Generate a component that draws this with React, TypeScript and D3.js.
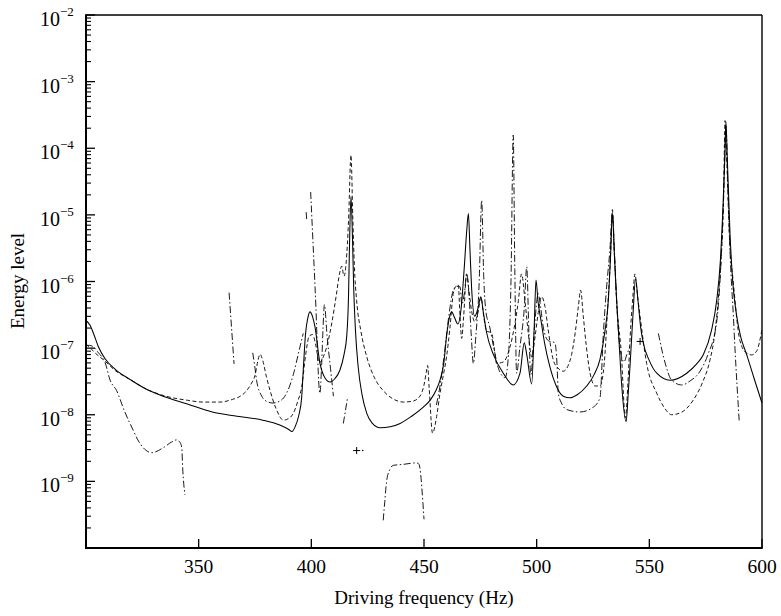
import React from 'react';
import * as d3 from 'd3';

type P = [number, number];

// ---- axis data ----
const xDomain: [number, number] = [300, 600];
const yDomain: [number, number] = [1e-10, 1e-2];
const xTickValues = [350, 400, 450, 500, 550, 600];
const yLabelExponents = [-9, -8, -7, -6, -5, -4, -3, -2];
const xTitle = 'Driving frequency (Hz)';
const yTitle = 'Energy level';

// ---- series (frequency Hz, energy) ----
const solidSeries: P[] = [
  [300, 2.6e-7], [301.8, 2.2e-7], [303.5, 1.6e-7], [305.5, 1.05e-7], [308.4, 7e-8], [313, 4.8e-8],
  [319.5, 3.4e-8], [326, 2.5e-8], [334.2, 1.9e-8], [345, 1.45e-8], [356, 1.1e-8], [367, 9.5e-9],
  [378.5, 8.3e-9], [386, 7e-9], [390, 6e-9], [391.4, 5.6e-9], [392.8, 6.6e-9], [394.5, 1e-8],
  [395.7, 1.8e-8], [396.6, 6e-8], [397.4, 1.6e-7], [398.4, 2.8e-7], [399.4, 3.5e-7], [400.5, 3e-7],
  [401.6, 2.1e-7], [403.8, 6e-8], [406, 3.6e-8], [408.3, 3.1e-8], [410.5, 3.5e-8], [412.7, 4.7e-8],
  [414.5, 8e-8], [415.7, 1.5e-7], [416.5, 6e-7], [416.9, 3e-6], [417.6, 1.9e-5], [418.3, 4e-6],
  [418.8, 8e-7], [419.6, 1.8e-7], [420.8, 5.2e-8], [422.5, 2e-8], [424.6, 1.05e-8], [427, 7.5e-9],
  [430.5, 6.4e-9], [435, 6.6e-9], [439.4, 7.4e-9], [444.5, 9.5e-9], [449.7, 1.3e-8], [453, 1.7e-8],
  [455.5, 2.4e-8], [457.1, 3.3e-8], [458.8, 6e-8], [460, 1.5e-7], [461.2, 2.8e-7], [462.3, 3.5e-7],
  [463.5, 2.9e-7], [465, 2.3e-7], [466.5, 4e-7], [467.8, 1.5e-6], [469, 6e-6], [469.7, 1.05e-5],
  [470.4, 3e-6], [471.1, 8.3e-7], [472.5, 3e-7], [474, 4e-7], [475.2, 5.9e-7], [476.3, 3.5e-7],
  [477.8, 1.7e-7], [480.8, 8e-8], [485.2, 4.2e-8], [489.6, 2.8e-8], [492.6, 4.2e-8], [494.5, 1.2e-7],
  [495.6, 8e-8], [497.8, 2.9e-8], [498.9, 2e-7], [499.7, 1.05e-6], [500.6, 5e-7], [502, 2.5e-7],
  [503.5, 1.2e-7], [505.9, 5.2e-8], [508.5, 2.8e-8], [511.8, 1.9e-8], [514.8, 1.8e-8], [518, 2e-8],
  [522.2, 2.7e-8], [525.5, 4e-8], [528.1, 6.8e-8], [530.3, 1.8e-7], [531.8, 5.2e-7], [532.8, 2.5e-6],
  [533.6, 1.05e-5], [534.5, 2.5e-6], [535.5, 5.2e-7], [536.6, 1.2e-7], [537.7, 2.9e-8], [539.7, 7.9e-9],
  [540.6, 2e-8], [541.4, 5.2e-8], [542.7, 3e-7], [543.9, 1.1e-6], [545, 5e-7], [546.2, 2e-7],
  [547.3, 1.2e-7], [550, 6.5e-8], [553.3, 4.2e-8], [559.2, 3.3e-8], [566.6, 4.2e-8], [571, 5.8e-8],
  [574, 8e-8], [577.5, 1.8e-7], [579.9, 5.2e-7], [581.5, 2e-6], [582.8, 1.66e-5], [583.6, 9e-5],
  [584, 2.5e-4], [584.6, 7e-5], [585.8, 5.3e-6], [587, 1e-6], [588.8, 3e-7], [590.5, 1.5e-7],
  [593.2, 8e-8], [596.5, 3.5e-8], [600, 1.5e-8],
];

const dashedSeries: P[] = [
  [300, 1.15e-7], [302, 1e-7], [304, 8.5e-8], [308.4, 6.4e-8], [313, 4.6e-8], [319.5, 3.4e-8],
  [326, 2.5e-8], [334.2, 1.95e-8], [345, 1.65e-8], [352, 1.55e-8], [359.5, 1.55e-8], [365, 1.7e-8],
  [368.5, 1.9e-8], [371.3, 2.3e-8], [373.5, 3e-8], [375, 3.9e-8], [376.3, 6.5e-8], [377.2, 8.1e-8],
  [378.4, 6.6e-8], [380, 3.8e-8], [381.7, 2.3e-8], [384.5, 1.2e-8], [387.6, 8.3e-9], [390, 8.8e-9],
  [392, 1.05e-8], [394, 1.6e-8], [395.7, 2.6e-8], [397.5, 8e-8], [399, 1.5e-7], [400.5, 1.6e-7],
  [402, 1.1e-7], [403.5, 6e-8], [405, 7e-8], [407, 1.1e-7], [409, 2.3e-7], [411, 6e-7],
  [412.5, 1.3e-6], [413.5, 1.7e-6], [414.5, 1.2e-6], [415.5, 2e-6], [416.5, 8e-6], [417.6, 7.9e-5],
  [418.4, 9.3e-6], [419.1, 1.7e-6], [420.1, 5.2e-7], [422, 1.8e-7], [424.6, 7.4e-8], [428, 3.6e-8],
  [431.9, 2.3e-8], [436, 1.75e-8], [440.8, 1.55e-8], [445, 1.6e-8], [448.2, 1.9e-8], [450, 2.8e-8],
  [451.2, 4.7e-8], [451.6, 5.5e-8], [452.3, 2.5e-8], [453.8, 5.3e-9], [455.6, 9.4e-9], [457.1, 2.1e-8],
  [458.5, 3.8e-8], [460, 7.4e-8], [461.5, 2e-7], [463, 6.6e-7], [464.2, 8.5e-7], [465.2, 8.9e-7],
  [466, 3e-7], [466.7, 1.4e-7], [467.6, 3e-7], [468.9, 1.3e-6], [470, 7e-7], [471.2, 3.5e-7],
  [472.5, 2.5e-7], [474, 3.5e-7], [475.3, 5.8e-7], [476.5, 3e-7], [477.8, 1.8e-7], [480, 1.7e-7],
  [481, 1.1e-7], [482.2, 5.9e-8], [485.2, 6.2e-8], [488.2, 1.05e-7], [490.5, 2.5e-7], [491.9, 5.2e-7],
  [493.3, 1.3e-6], [494.8, 5.2e-7], [496.3, 1.66e-7], [497.8, 7.4e-8], [499.3, 1.5e-7], [500.7, 3.4e-7],
  [502.2, 5.9e-7], [503.7, 4.2e-7], [505.1, 1.9e-7], [507.4, 6.6e-8], [509.5, 5e-8], [511.8, 4.5e-8],
  [514, 5.5e-8], [515.5, 8e-8], [517.2, 1.8e-7], [518.5, 4.2e-7], [519.5, 7.4e-7], [520.7, 3e-7],
  [522, 1.1e-7], [523.7, 4.2e-8], [526, 2.7e-8], [528.1, 2.7e-8], [530, 6e-8], [531.5, 4e-7],
  [532.8, 2.5e-6], [533.6, 1.2e-5], [534.5, 2.5e-6], [535.5, 5e-7], [537.5, 9e-8], [539.4, 9e-9],
  [540.5, 3e-8], [541.5, 1.5e-7], [542.7, 6e-7], [543.6, 1.3e-6], [544.8, 6e-7], [545.9, 3e-7],
  [548.8, 5.9e-8], [553.3, 2.1e-8], [556.5, 1.3e-8], [559.9, 1e-8], [564.5, 1.1e-8], [569.5, 1.66e-8],
  [573.5, 3e-8], [576.9, 6.6e-8], [579, 1.6e-7], [580.5, 5e-7], [581.8, 2e-6], [582.9, 1.5e-5],
  [583.6, 2.6e-4], [584.4, 6e-5], [585.5, 5e-6], [587.3, 9.5e-7], [590.2, 1.3e-7], [593, 8.5e-8],
  [595.4, 7.9e-8], [597.6, 9e-8], [600, 1.9e-7],
];

const dashDotSegments: P[][] = [
  [
    [300, 1.1e-7], [301.5, 1.1e-7], [303.2, 1.05e-7], [305.5, 8.5e-8], [308.4, 6.2e-8], [310.7, 3.3e-8],
    [313.6, 2.3e-8], [317, 1.15e-8], [320.9, 5.9e-9], [323, 4.2e-9], [325.4, 3.2e-9], [329.2, 2.7e-9],
    [334.3, 3.2e-9], [338, 3.9e-9], [340.2, 4.2e-9], [341.8, 3.8e-9], [342.5, 3.2e-9], [342.9, 1.6e-9],
    [343.9, 6.3e-10],
  ],
  [[363.5, 6.8e-7], [364.6, 2e-7], [365.7, 5.8e-8]],
  [
    [374, 8.5e-8], [375, 5e-8], [375.7, 3.3e-8], [378, 1.9e-8], [380.8, 1.55e-8], [383, 1.5e-8],
    [386, 1.6e-8], [389, 2.1e-8], [392, 4e-8], [394.5, 9e-8], [396.4, 1.66e-7],
  ],
  [[397.7, 1.1e-5], [397.95, 8.5e-6]],
  [
    [399.7, 2.2e-5], [401.75, 7e-7], [403.8, 2.1e-8], [404.6, 5.9e-8], [405.2, 2e-7], [405.8, 4.5e-7],
    [407, 1.5e-7], [408.5, 5e-8], [409.8, 1.9e-8],
  ],
  [[414.2, 7.4e-9], [416, 1.74e-8]],
  [
    [431.9, 2.6e-10], [432.6, 5e-10], [433.4, 1e-9], [434.8, 1.5e-9], [436.4, 1.74e-9], [440.8, 1.8e-9],
    [446.8, 1.9e-9], [447.8, 1.8e-9], [448.5, 1.3e-9], [449, 8.3e-10], [450, 2.7e-10],
  ],
  [
    [455.5, 1.4e-8], [457.1, 2.7e-8], [459, 8e-8], [461, 3e-7], [463, 7.4e-7], [464.5, 8.5e-7],
    [466, 8.3e-7], [466.8, 4.5e-7], [468, 7e-7], [469, 1.3e-6], [470, 6e-7], [471, 1.5e-7],
    [471.9, 5.9e-8], [473, 1.5e-7], [474.5, 1e-6], [475.6, 1.66e-5], [476.5, 1.2e-6], [477.5, 3.5e-7],
    [479, 2.2e-7], [481, 1e-7], [483, 5e-8], [486, 3.6e-8], [487.5, 8e-8], [488.6, 1e-6],
    [489.6, 1.58e-4], [490.3, 1.5e-6], [491.1, 4.2e-8], [492.5, 1e-7], [494.5, 4e-7], [495.6, 1.66e-6],
    [496.5, 2e-7], [497.4, 4e-8], [499, 2e-7], [500.7, 6.6e-7], [501.8, 4e-7], [503, 2e-7],
    [505.1, 1.3e-7], [508.1, 1.2e-7], [509, 6e-8], [509.6, 2.1e-8], [511, 1.5e-8], [513.3, 1.2e-8],
    [519.2, 1.1e-8], [525.1, 1.3e-8], [528.1, 1.8e-8], [529.6, 1.66e-7], [531, 8e-7], [532.5, 3e-6],
    [533.6, 1.1e-5], [534.6, 2.5e-6], [535.5, 5e-7], [537, 1e-7], [538.8, 6.2e-8], [540, 8e-8],
    [541.4, 1.05e-7],
  ],
  [
    [554, 1.66e-7], [557, 6e-8], [559.9, 3.3e-8], [564.4, 2.8e-8], [568, 3.2e-8], [572.5, 4.5e-8],
    [576, 8e-8], [579.9, 2.5e-7], [581.8, 2e-6], [583, 2e-5], [584, 2.2e-4], [584.8, 3e-5],
    [586, 2e-6], [587.3, 3e-7], [588, 1e-7], [589.9, 7.9e-9],
  ],
];

const plusMarkers: P[] = [[420.1, 2.9e-9], [545.9, 1.26e-7]];
const dotMarkers: P[] = [[422.8, 2.9e-9]];

const FONT = '"Liberation Serif", "Times New Roman", Times, serif';

export default function App() {
  const L = 86, R = 762, T = 15, B = 548;
  const x = d3.scaleLinear().domain(xDomain).range([L, R]);
  const y = d3.scaleLog().domain(yDomain).range([B, T]);
  const line = d3
    .line<P>()
    .x((d) => x(d[0]))
    .y((d) => y(d[1]))
    .curve(d3.curveMonotoneX);

  const minorTicks: number[] = [];
  for (let e = -10; e < -2; e++) {
    for (let k = 2; k <= 9; k++) minorTicks.push(k * Math.pow(10, e));
  }
  const majorTicks: number[] = [];
  for (let e = -10; e <= -2; e++) majorTicks.push(Math.pow(10, e));

  return (
    <svg
      width={781}
      height={616}
      style={{ position: 'absolute', left: 0, top: 0, background: '#fff' }}
      fontFamily={FONT}
    >
      <defs>
        <clipPath id="plot">
          <rect x={L} y={T} width={R - L} height={B - T} />
        </clipPath>
      </defs>
      <rect x={0} y={0} width={781} height={616} fill="#fff" />

      <g clipPath="url(#plot)" fill="none" stroke="#000">
        <path d={line(solidSeries) || ''} strokeWidth={1.05} />
        <path d={line(dashedSeries) || ''} strokeWidth={0.9} strokeDasharray="4 2.5" />
        {dashDotSegments.map((seg, i) => (
          <path key={i} d={line(seg) || ''} strokeWidth={0.9} strokeDasharray="7 2.5 1.5 2.5" />
        ))}
        {plusMarkers.map((p, i) => (
          <path
            key={'p' + i}
            d={`M${x(p[0]) - 3.5},${y(p[1])}h7M${x(p[0])},${y(p[1]) - 3.5}v7`}
            strokeWidth={1}
          />
        ))}
        {dotMarkers.map((p, i) => (
          <circle key={'d' + i} cx={x(p[0])} cy={y(p[1])} r={0.8} fill="#000" stroke="none" />
        ))}
      </g>

      {/* frame */}
      <g stroke="#000" fill="none">
        <line x1={L} x2={R} y1={T} y2={T} strokeWidth={1.4} />
        <line x1={R} x2={R} y1={T} y2={B} strokeWidth={1.4} />
        <line x1={L} x2={L} y1={T - 0.7} y2={B + 1} strokeWidth={2} />
        <line x1={L - 1} x2={R + 0.7} y1={B} y2={B} strokeWidth={2} />
        {majorTicks.map((v, i) => (
          <line key={'M' + i} x1={L} x2={L + 9} y1={y(v)} y2={y(v)} strokeWidth={1.3} />
        ))}
        {minorTicks.map((v, i) => (
          <line key={'m' + i} x1={L} x2={L + 5} y1={y(v)} y2={y(v)} strokeWidth={1.1} />
        ))}
        {xTickValues.map((v) => (
          <line key={'x' + v} x1={x(v)} x2={x(v)} y1={B} y2={B - 9} strokeWidth={1.3} />
        ))}
      </g>

      {/* tick labels */}
      <g fill="#000">
        {xTickValues.map((v) => (
          <text key={'xl' + v} x={x(v)} y={573} fontSize={19.5} textAnchor="middle">
            {v}
          </text>
        ))}
        {yLabelExponents.map((e) => {
          const yy = y(Math.pow(10, e));
          return (
            <g key={'yl' + e}>
              <text x={60} y={yy + 11} fontSize={20} textAnchor="end">
                10
              </text>
              <text x={60} y={yy + 1} fontSize={13} textAnchor="start">
                {'\u2212' + Math.abs(e)}
              </text>
            </g>
          );
        })}
        <text x={424} y={604} fontSize={19} textAnchor="middle">
          {xTitle}
        </text>
        <text transform="translate(24,281) rotate(-90)" fontSize={19} textAnchor="middle">
          {yTitle}
        </text>
      </g>
    </svg>
  );
}
